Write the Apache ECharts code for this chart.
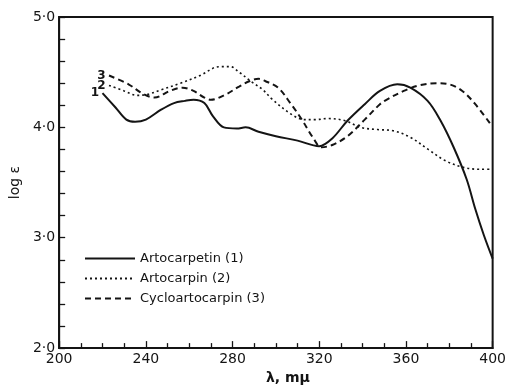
<!DOCTYPE html>
<html>
<head>
<meta charset="utf-8">
<script src="https://cdn.jsdelivr.net/npm/echarts@6/dist/echarts.min.js"></script>
<style>
  html, body { margin: 0; padding: 0; background: #fff; }
  #chart { width: 509px; height: 390px; }
</style>
</head>
<body>
<div id="chart"></div>
<script>
// UV absorption spectra: wavelength (mμ) vs log ε
const artocarpetinWl = [220, 226, 231, 235, 240, 247, 253, 258, 262, 267, 271, 276, 282, 286, 292, 300, 310, 320, 326, 333, 341, 348, 356, 362, 370, 376, 382, 388, 392, 396, 400];
const artocarpetinLog = [4.31, 4.18, 4.07, 4.05, 4.07, 4.16, 4.22, 4.24, 4.25, 4.22, 4.10, 4.00, 3.99, 4.00, 3.96, 3.92, 3.88, 3.83, 3.90, 4.06, 4.21, 4.33, 4.39, 4.36, 4.24, 4.06, 3.82, 3.53, 3.26, 3.02, 2.81];

const artocarpinWl = [223, 230, 236, 241, 247, 256, 265, 274, 279, 283, 289, 294, 298, 307, 313, 318, 324, 332, 339, 347, 354, 362, 371, 378, 386, 394, 400];
const artocarpinLog = [4.38, 4.33, 4.29, 4.30, 4.34, 4.40, 4.47, 4.55, 4.55, 4.50, 4.41, 4.34, 4.26, 4.12, 4.07, 4.07, 4.08, 4.06, 4.00, 3.98, 3.97, 3.91, 3.79, 3.70, 3.64, 3.62, 3.62];

const cycloWl = [223, 232, 239, 244, 251, 257, 262, 267, 270, 277, 283, 288, 292, 295, 301, 307, 312, 317, 321, 326, 333, 341, 348, 351, 359, 366, 374, 380, 386, 392, 399];
const cycloLog = [4.47, 4.39, 4.30, 4.27, 4.33, 4.36, 4.33, 4.27, 4.25, 4.30, 4.37, 4.42, 4.44, 4.42, 4.36, 4.21, 4.07, 3.91, 3.82, 3.84, 3.92, 4.07, 4.21, 4.25, 4.33, 4.38, 4.40, 4.39, 4.33, 4.21, 4.03];

const seriesNames = ['Artocarpetin (1)', 'Artocarpin (2)', 'Cycloartocarpin (3)'];
const curveTags = ['1', '2', '3'];

const xTicks = [200, 240, 280, 320, 360, 400];
const yTicks = [2, 3, 4, 5];

const ink = '#141414';
const font = 'DejaVu Sans';
const clear = 'rgba(0,0,0,0)';

// each curve carries its number beside its first point
function pairs(wl, vals, tag) {
  return wl.map((w, i) => {
    const item = { value: [w, vals[i]] };
    if (i === 0) {
      item.label = {
        show: true, formatter: tag, position: 'left', distance: 3,
        color: ink, fontFamily: font, fontSize: 12, fontWeight: 'bold'
      };
    }
    return item;
  });
}

const chart = echarts.init(document.getElementById('chart'), null, { renderer: 'canvas' });

const lineTypes = ['solid', [2, 3], [6, 4]];
const lineWidths = [2, 1.6, 2];
const data = [
  pairs(artocarpetinWl, artocarpetinLog, curveTags[0]),
  pairs(artocarpinWl, artocarpinLog, curveTags[1]),
  pairs(cycloWl, cycloLog, curveTags[2])
];

chart.setOption({
  animation: false,
  backgroundColor: '#fff',
  grid: {
    left: 53, right: 16, top: 17, bottom: 35,
    show: true, borderColor: ink, borderWidth: 2, backgroundColor: 'transparent'
  },
  legend: {
    orient: 'vertical',
    left: 79, top: 247,
    itemWidth: 50, itemHeight: 14, itemGap: 7,
    itemStyle: { color: clear, borderWidth: 0, opacity: 0 },
    textStyle: { color: ink, fontFamily: font, fontSize: 13 },
    data: seriesNames
  },
  xAxis: {
    type: 'value',
    min: xTicks[0], max: xTicks[xTicks.length - 1], interval: 40,
    name: 'λ, mμ',
    nameLocation: 'middle',
    nameGap: 22,
    nameTextStyle: { color: ink, fontFamily: font, fontSize: 14, fontWeight: 'bold', padding: [0, 0, 0, 24] },
    axisLine: { lineStyle: { color: ink, width: 1.8 } },
    axisTick: { inside: true, length: 7, lineStyle: { color: ink, width: 1.3 } },
    minorTick: { show: true, splitNumber: 4, length: 5, lineStyle: { color: ink, width: 1.3 } },
    axisLabel: { color: ink, fontFamily: font, fontSize: 14, margin: 4 },
    splitLine: { show: false }
  },
  yAxis: {
    type: 'value',
    min: yTicks[0], max: yTicks[yTicks.length - 1], interval: 1,
    name: 'log ε',
    nameLocation: 'middle',
    nameGap: 34,
    nameRotate: 90,
    nameTextStyle: { color: ink, fontFamily: font, fontSize: 14 },
    axisLine: { lineStyle: { color: ink, width: 1.8 } },
    axisTick: { inside: true, length: 6, lineStyle: { color: ink, width: 1.3 } },
    minorTick: { show: true, splitNumber: 5, length: 6, lineStyle: { color: ink, width: 1.3 } },
    axisLabel: {
      color: ink, fontFamily: font, fontSize: 14, margin: 4,
      formatter: v => v.toFixed(1).replace('.', '·')
    },
    splitLine: { show: false }
  },
  series: seriesNames.map((name, k) => ({
    name: name,
    type: 'line',
    data: data[k],
    smooth: 0.35,
    symbol: 'circle',
    symbolSize: 1,
    showSymbol: true,
    lineStyle: { color: ink, width: lineWidths[k], type: lineTypes[k] },
    itemStyle: { color: clear, borderWidth: 0 },
    z: 3 - k
  }))
});
</script>
</body>
</html>
